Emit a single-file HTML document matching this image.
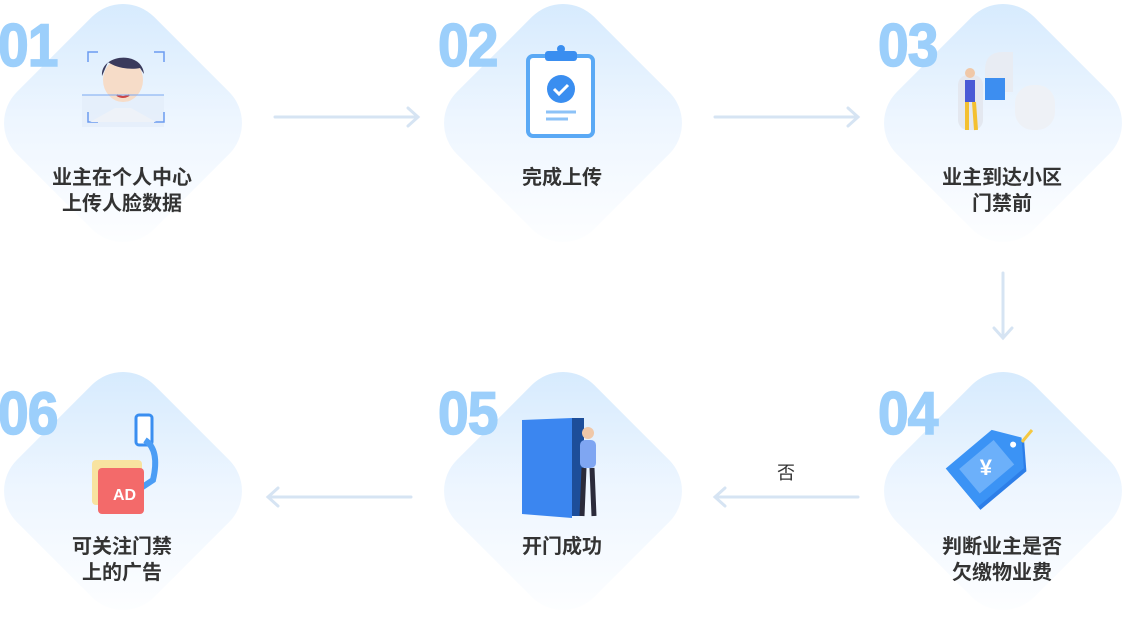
<!DOCTYPE html>
<html><head><meta charset="utf-8"><style>
body{margin:0;width:1125px;height:614px;background:#fff;position:relative;overflow:hidden;font-family:"Liberation Sans","Noto Sans CJK SC",sans-serif}
.d{position:absolute;width:194px;height:194px;border-radius:44px;transform:rotate(45deg);background:linear-gradient(135deg,#d3e9fd 0%,#eef6ff 50%,rgba(255,255,255,0) 100%)}
.n{position:absolute;font-size:60px;font-weight:bold;color:#9ccffb;letter-spacing:-1px;line-height:60px;transform:scaleX(0.92);transform-origin:left;-webkit-text-stroke:1.5px #9ccffb}
.t{position:absolute;width:200px;text-align:center;font-size:20px;font-weight:bold;color:#333;line-height:26px}
svg.a{position:absolute;left:0;top:0}
</style></head><body>
<div class="d" style="left:26px;top:26px"></div>
<div class="d" style="left:466px;top:26px"></div>
<div class="d" style="left:906px;top:26px"></div>
<div class="d" style="left:26px;top:394px"></div>
<div class="d" style="left:466px;top:394px"></div>
<div class="d" style="left:906px;top:394px"></div>
<div class="n" style="left:-2px;top:16px">01</div>
<div class="n" style="left:438px;top:16px">02</div>
<div class="n" style="left:878px;top:16px">03</div>
<div class="n" style="left:-2px;top:384px">06</div>
<div class="n" style="left:438px;top:384px">05</div>
<div class="n" style="left:878px;top:384px">04</div>
<div class="t" style="left:22px;top:165px">业主在个人中心<br>上传人脸数据</div>
<div class="t" style="left:462px;top:165px">完成上传</div>
<div class="t" style="left:902px;top:165px">业主到达小区<br>门禁前</div>
<div class="t" style="left:902px;top:534px">判断业主是否<br>欠缴物业费</div>
<div class="t" style="left:462px;top:534px">开门成功</div>
<div class="t" style="left:22px;top:534px">可关注门禁<br>上的广告</div>
<div style="position:absolute;left:777px;top:459px;font-size:18px;color:#333">否</div>
<svg class="a" width="1125" height="614" fill="none">
<g stroke="#d6e4f3" stroke-width="3" stroke-linecap="round">
<path d="M275 117H418M408 108l10 9-10 9"/>
<path d="M715 117H858M848 108l10 9-10 9"/>
<path d="M1003 273V338M994 328l9 10 9-10"/>
<path d="M858 497H715M725 488l-10 9 10 9"/>
<path d="M411 497H268M278 488l-10 9 10 9"/>
</g>
<g>
<rect x="82" y="95" width="82" height="32" fill="#e4eefa" opacity=".8"/>
<path d="M88 62v-10h10M154 52h10v10M88 112v10h10M164 112v10h-10" stroke="#6b9bf0" stroke-width="1.5"/>
<ellipse cx="123" cy="80" rx="20" ry="22" fill="#f6dcc8"/>
<path d="M102 76c-2-22 40-26 42-2l-4-6c-10 2-24 0-32-6z" fill="#3a3a5c"/>
<path d="M117 95q6 4 12 0" stroke="#c44" stroke-width="2"/>
<path d="M90 122l25-14h16l25 14z" fill="#eef2f8"/>
<path d="M82 95H164" stroke="#7aa8f2"/>
</g>
<g>
<rect x="528" y="56" width="65" height="80" rx="5" fill="#fff" stroke="#5aa9f5" stroke-width="4"/>
<rect x="545" y="51" width="32" height="10" rx="3" fill="#3a8ef0"/>
<circle cx="561" cy="49" r="4" fill="#3a8ef0"/>
<circle cx="561" cy="89" r="14" fill="#3a8ef0"/>
<path d="M554 89l5 5 9-9" stroke="#fff" stroke-width="3"/>
<path d="M546 112h30M546 119h22" stroke="#8cc2f7" stroke-width="3"/>
</g>
<g>
<path d="M985 70q0-18 18-18h10v40h-28z" fill="#e8ecf3"/>
<rect x="1015" y="85" width="40" height="45" rx="18" fill="#eef1f6"/>
<rect x="958" y="75" width="25" height="55" rx="10" fill="#e4e8f0"/>
<rect x="985" y="78" width="20" height="22" fill="#3d8ef0"/>
<circle cx="970" cy="73" r="5" fill="#f0c8a8"/>
<rect x="965" y="80" width="10" height="22" fill="#4a5bd6"/>
<path d="M967 102l0 28M974 102l2 28" stroke="#f4c030" stroke-width="4"/>
</g>
<g transform="rotate(-40 995 465)">
<path d="M955 440h60l18 25-18 25h-60z" fill="#2d7ee8"/>
<path d="M955 436h60l18 25-18 25h-60z" fill="#3b93f5"/>
<rect x="965" y="445" width="45" height="32" fill="#6cb0fa"/>
<circle cx="1022" cy="461" r="3" fill="#fff"/>
<text x="980" y="470" fill="#fff" font-size="22" font-weight="bold" transform="rotate(40 988 462)">¥</text>
</g>
<path d="M1022 442l10-12" stroke="#f5c842" stroke-width="3"/>
<g>
<path d="M522 420l50-2v100l-50-4z" fill="#3b86f0"/>
<path d="M572 418h12v98h-12z" fill="#1d4e9a"/>
<circle cx="588" cy="433" r="6" fill="#f0c8a8"/>
<rect x="580" y="440" width="16" height="28" rx="5" fill="#7fa6f2"/>
<path d="M584 468l-2 48M592 468l2 48" stroke="#2b2b3a" stroke-width="5"/>
</g>
<g>
<rect x="136" y="415" width="16" height="30" rx="3" fill="#fff" stroke="#3a8ef0" stroke-width="3"/>
<path d="M145 440q15 10 8 40l-12 8" stroke="#4b9df5" stroke-width="6"/>
<rect x="92" y="460" width="50" height="45" rx="4" fill="#f8e3a0"/>
<rect x="98" y="468" width="46" height="46" rx="4" fill="#f36a6a"/>
<text x="113" y="500" fill="#fff" font-size="16" font-weight="bold">AD</text>
</g>
</svg>
</body></html>
